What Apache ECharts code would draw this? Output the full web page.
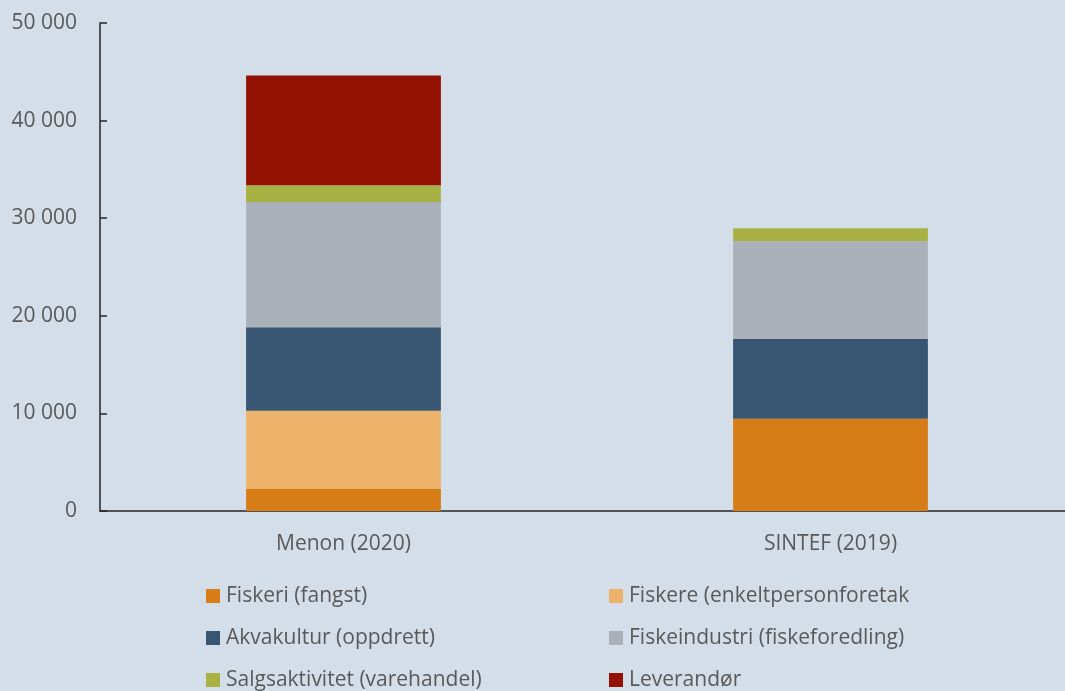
<!DOCTYPE html>
<html>
<head>
<meta charset="utf-8">
<script src="https://cdn.jsdelivr.net/npm/echarts@6/dist/echarts.min.js"></script>
<style>
  html, body { margin: 0; padding: 0; background: #d4dee9; overflow: hidden; }
  #chart { width: 1074px; height: 691px; }
</style>
</head>
<body>
<div id="chart"></div>
<script>
// kategorier
const categories = ['Menon (2020)', 'SINTEF (2019)'];
// verdier per serie (Menon, SINTEF)
const fiskeri = [2250, 9450];
const fiskere = [8010, 0];
const akvakultur = [8570, 8190];
const fiskeindustri = [12830, 10000];
const salg = [1710, 1330];
const leverandor = [11260, 0];
const yTicks = [0, 10000, 20000, 30000, 40000, 50000];

const seriesNames = [
  'Fiskeri (fangst)',
  'Fiskere (enkeltpersonforetak',
  'Akvakultur (oppdrett)',
  'Fiskeindustri (fiskeforedling)',
  'Salgsaktivitet (varehandel)',
  'Leverandør'
];
const seriesData = [fiskeri, fiskere, akvakultur, fiskeindustri, salg, leverandor];
const colors = ['#d67d17', '#eeb36b', '#385672', '#aab1b9', '#a8b244', '#921100'];

const fontFam = '"Open Sans", "Noto Sans", sans-serif';
const textColor = '#595959';

let myChart = echarts.init(document.getElementById('chart'));

// to legend-kolonner
const legendBase = {
  orient: 'vertical',
  icon: 'rect',
  itemWidth: 14,
  itemHeight: 14,
  itemGap: 20,
  padding: 0,
  top: 585,
  height: 140,
  textStyle: { fontSize: 21, lineHeight: 22, color: textColor, fontFamily: fontFam, padding: [0, 0, 0, 1] }
};

let option = {
  backgroundColor: '#d4dee9',
  animation: false,
  grid: { left: 100, right: 0, top: 23, bottom: 180 },
  legend: [
    Object.assign({}, legendBase, { left: 206, data: [seriesNames[0], seriesNames[2], seriesNames[4]] }),
    Object.assign({}, legendBase, { left: 609, data: [seriesNames[1], seriesNames[3], seriesNames[5]] })
  ],
  xAxis: {
    type: 'category',
    data: categories,
    axisLine: { lineStyle: { color: '#262626', width: 1.5 } },
    axisTick: { show: false },
    axisLabel: { color: textColor, fontSize: 21, fontFamily: fontFam, margin: 23 }
  },
  yAxis: {
    type: 'value',
    min: yTicks[0],
    max: yTicks[yTicks.length - 1],
    interval: 10000,
    splitLine: { show: false },
    axisLine: { show: true, lineStyle: { color: '#262626', width: 1.5 } },
    axisTick: { show: true, inside: true, length: 7, lineStyle: { color: '#262626', width: 1.5 } },
    axisLabel: {
      color: textColor, fontSize: 21, fontFamily: fontFam, margin: 23,
      formatter: v => String(v).replace(/\B(?=(\d{3})+(?!\d))/g, ' ')
    }
  },
  series: seriesNames.map((name, i) => ({
    name: name,
    type: 'bar',
    stack: 'total',
    barWidth: '40%',
    data: seriesData[i],
    itemStyle: { color: colors[i] }
  }))
};

myChart.setOption(option);
</script>
</body>
</html>
